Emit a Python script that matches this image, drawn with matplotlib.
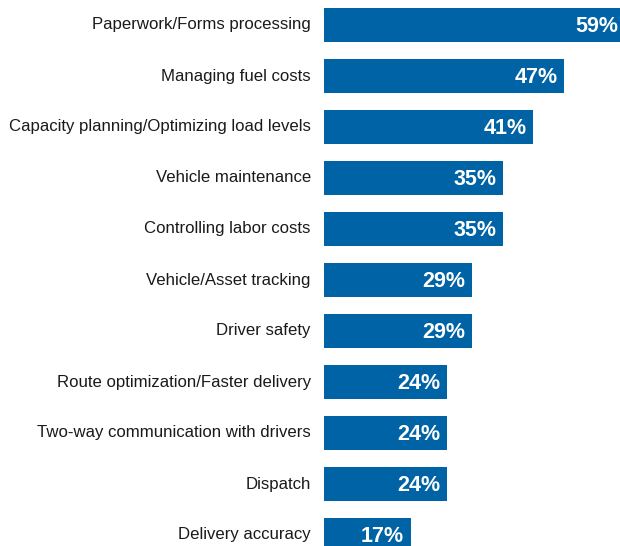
import matplotlib.pyplot as plt

plt.rcParams['font.family'] = ['Liberation Sans', 'DejaVu Sans']

categories = ['Paperwork/Forms processing', 'Managing fuel costs',
              'Capacity planning/Optimizing load levels', 'Vehicle maintenance',
              'Controlling labor costs', 'Vehicle/Asset tracking', 'Driver safety',
              'Route optimization/Faster delivery', 'Two-way communication with drivers',
              'Dispatch', 'Delivery accuracy']
values = [59, 47, 41, 35, 35, 29, 29, 24, 24, 24, 17]

fig = plt.figure(figsize=(6.2, 5.46), dpi=100)
ax = fig.add_axes([324/620, 0, 296/620, 1])

pos = list(range(len(categories)))
ax.barh(pos, values, height=34/51, color='#0063a5')

for p, v in zip(pos, values):
    ax.text(v - 1.3, p + 0.02, f'{v}%', color='white', fontsize=15.5, fontweight='bold',
            ha='right', va='center')

ax.set_xlim(0, 296/5.106)
ax.set_ylim((546-25)/51, -25/51)
ax.set_yticks(pos)
ax.set_yticklabels(categories, fontsize=12.1, color='#1a1a1a', va='center')
ax.tick_params(axis='y', length=0, pad=9.5)
ax.xaxis.set_visible(False)
for s in ax.spines.values():
    s.set_visible(False)

fig.savefig('out.png', dpi=100)
